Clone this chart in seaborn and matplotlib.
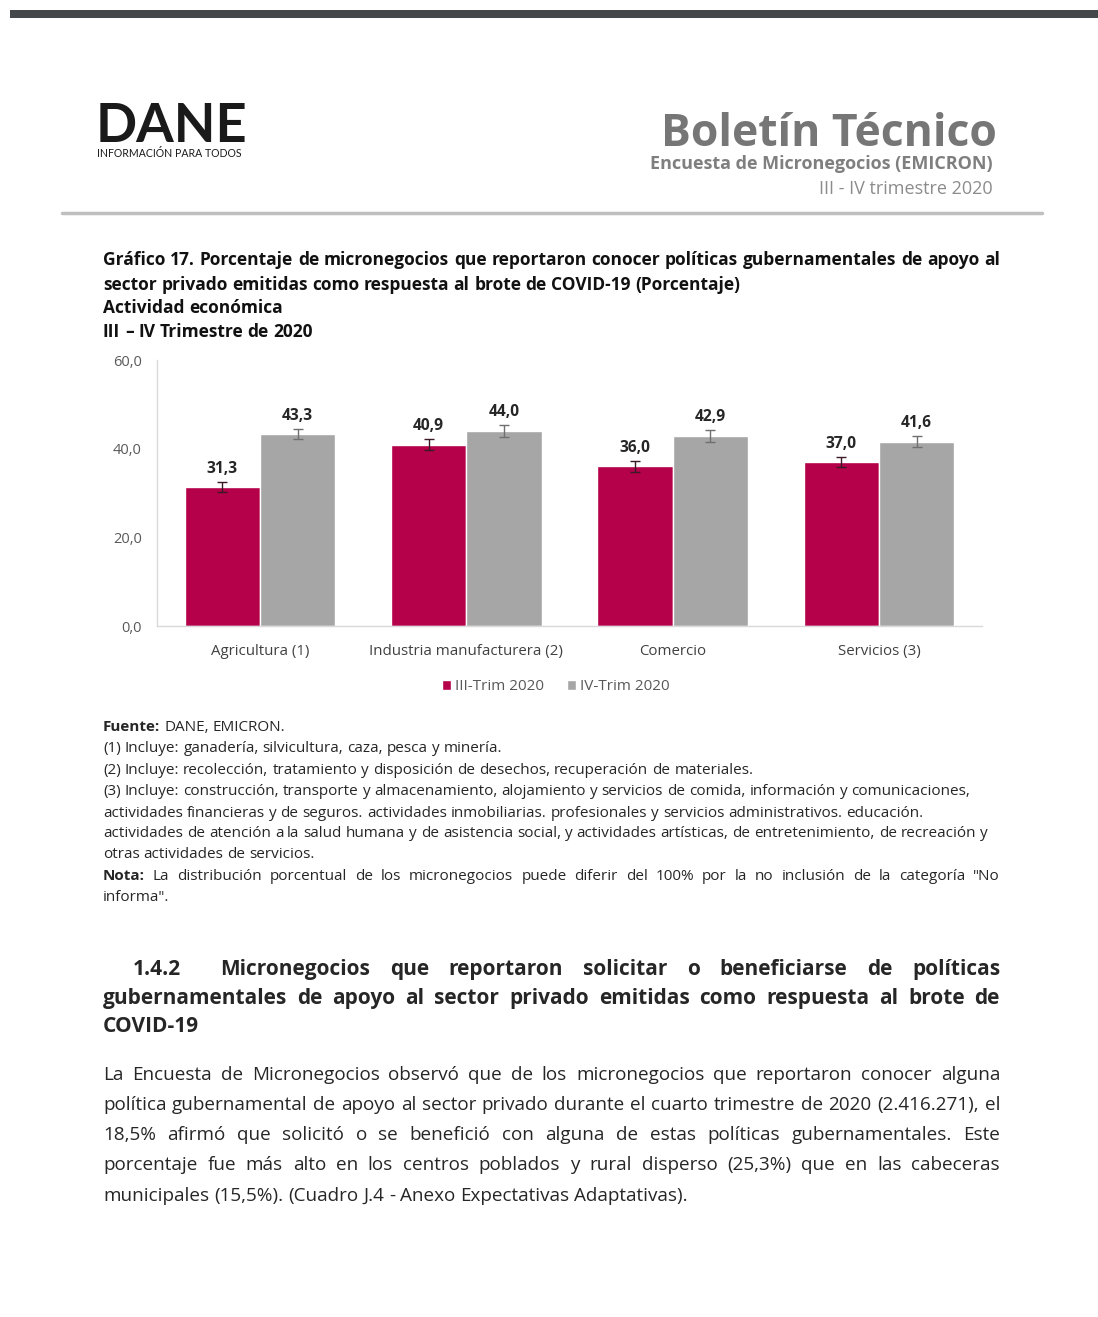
import matplotlib
matplotlib.use("Agg")
import matplotlib.pyplot as plt
from matplotlib.patches import Rectangle, Patch
from matplotlib.lines import Line2D
import seaborn as sns
import pandas as pd

# datos del gráfico
categories = ["Agricultura (1)", "Industria manufacturera (2)", "Comercio", "Servicios (3)"]
periods = ["III-Trim 2020", "IV-Trim 2020"]
trim3 = [31.3, 40.9, 36.0, 37.0]
trim4 = [43.3, 44.0, 42.9, 41.6]
err3 = [1.1, 1.2, 1.3, 1.2]
err4 = [1.2, 1.3, 1.3, 1.3]
yticks = [0, 20, 40, 60]

RED = "#b5004a"
GRAY = "#a6a6a6"
W, H = 1098, 1317

sns.set_theme(style="white")
plt.rcParams["font.family"] = ["Open Sans", "DejaVu Sans"]

fig = plt.figure(figsize=(W / 100, H / 100), dpi=100)
fig.patch.set_facecolor("white")
renderer = fig.canvas.get_renderer()


def fx(x):
    return x / W


def fy(y):
    return 1 - y / H


def text_width(s, size, weight="normal"):
    t = fig.text(0, 0, s, fontsize=size, fontweight=weight)
    w = t.get_window_extent(renderer).width
    t.remove()
    return w


def fit_size(lines, target, weight="normal", ref=10):
    # tamaño de letra para que la línea más larga ocupe el ancho dado
    widest = max(text_width(s, ref, weight) for s in lines)
    return ref * target / widest


def put_line(text, x0, yc, x1=None, size=10, color="#262626", bold_n=0, weight="normal"):
    # palabra por palabra para poder justificar la línea
    words = text.split(" ")
    px = size * 100 / 72
    base = yc + 0.36 * px
    objs = []
    for i, w in enumerate(words):
        wt = "bold" if (i < bold_n or weight == "bold") else "normal"
        objs.append(fig.text(fx(x0), fy(base), w, fontsize=size, color=color,
                             fontweight=wt, va="baseline", ha="left"))
    widths = [t.get_window_extent(renderer).width for t in objs]
    gap = text_width("a a", size) - text_width("aa", size)
    if x1 is not None and len(objs) > 1:
        gap = (x1 - x0 - sum(widths)) / (len(objs) - 1)
    x = x0
    for t, w in zip(objs, widths):
        t.set_x(fx(x))
        x += w + gap


# ---- cabecera ----
fig.add_artist(Rectangle((fx(10), fy(18)), fx(1088), 8 / H, transform=fig.transFigure,
                         color="#45484b", lw=0))
fig.text(fx(96), fy(142), "DANE", family=["Lato", "DejaVu Sans"], fontsize=39,
         fontweight="bold", color="#1a1a1a", va="baseline")
fig.text(fx(97), fy(157), "INFORMACIÓN PARA TODOS", family=["Lato", "DejaVu Sans"],
         fontsize=7.6, color="#1a1a1a", va="baseline")
fig.text(fx(997), fy(146), "Boletín Técnico", fontsize=32, fontweight="bold",
         color="#767676", ha="right", va="baseline")
fig.text(fx(993), fy(169), "Encuesta de Micronegocios (EMICRON)", fontsize=13,
         fontweight="bold", color="#7f7f7f", ha="right", va="baseline")
fig.text(fx(993), fy(194), "III - IV trimestre 2020", fontsize=13,
         color="#8c8c8c", ha="right", va="baseline")
fig.add_artist(Line2D([fx(62), fx(1042)], [fy(213), fy(213)], color="#bfbfbf", lw=2.5))

# ---- título del gráfico ----
title = [
    "Gráfico 17. Porcentaje de micronegocios que reportaron conocer políticas gubernamentales de apoyo al",
    "sector privado emitidas como respuesta al brote de COVID-19 (Porcentaje)",
    "Actividad económica",
    "III – IV Trimestre de 2020",
]
ts = fit_size(title[:1], 897, "bold")
put_line(title[0], 103, 259, 1000, size=ts, color="#111111", weight="bold")
for txt, y in zip(title[1:], [284, 307, 331]):
    put_line(txt, 103, y, size=ts, color="#111111", weight="bold")

# ---- gráfico de barras ----
ax = fig.add_axes([fx(157), fy(626), 825 / W, 266 / H])
df = pd.DataFrame({
    "categoria": categories * 2,
    "periodo": [periods[0]] * len(categories) + [periods[1]] * len(categories),
    "valor": trim3 + trim4,
})
sns.barplot(data=df, x="categoria", y="valor", hue="periodo", hue_order=periods,
            palette=[RED, GRAY], width=0.73, saturation=1, errorbar=None,
            legend=False, ax=ax)

for cont, vals, errs, ecol in zip(ax.containers, [trim3, trim4], [err3, err4],
                                  ["#3a1a24", "#6f6f6f"]):
    for bar, v, e in zip(cont, vals, errs):
        xc = bar.get_x() + bar.get_width() / 2
        ax.errorbar(xc, v, yerr=e, fmt="none", ecolor=ecol, elinewidth=1,
                    capsize=3.5, capthick=1)
        ax.annotate(f"{v:.1f}".replace(".", ","), (xc, v + e), xytext=(0, 3.5),
                    textcoords="offset points", ha="center", va="bottom",
                    fontsize=11.2, fontweight="bold", color="#262626")

ax.set_ylim(0, 60)
ax.set_xlim(-0.5, 3.5)
ax.set_yticks(yticks)
ax.set_yticklabels([f"{t:.1f}".replace(".", ",") for t in yticks], fontsize=10.5, color="#595959")
ax.tick_params(axis="x", labelsize=10.8, colors="#404040", length=0, pad=13)
ax.tick_params(axis="y", length=0, pad=11)
ax.set_xlabel("")
ax.set_ylabel("")
for s in ["top", "right"]:
    ax.spines[s].set_visible(False)
for s in ["left", "bottom"]:
    ax.spines[s].set_color("#d9d9d9")
    ax.spines[s].set_linewidth(1)

handles = [Patch(facecolor=RED), Patch(facecolor=GRAY)]
leg = fig.legend(handles, periods, loc="center", bbox_to_anchor=(fx(556), fy(687)),
                 ncol=2, frameon=False, fontsize=11, handlelength=0.55, handleheight=0.55,
                 handletextpad=0.3, columnspacing=1.5)
for t in leg.get_texts():
    t.set_color("#595959")

# ---- notas ----
notes = [
    ("Fuente: DANE, EMICRON.", 726, None, 1),
    ("(1) Incluye: ganadería, silvicultura, caza, pesca y minería.", 747, None, 0),
    ("(2) Incluye: recolección, tratamiento y disposición de desechos, recuperación de materiales.", 769, None, 0),
    ("(3) Incluye: construcción, transporte y almacenamiento, alojamiento y servicios de comida, información y comunicaciones,", 790, None, 0),
    ("actividades financieras y de seguros. actividades inmobiliarias. profesionales y servicios administrativos. educación.", 812, None, 0),
    ("actividades de atención a la salud humana y de asistencia social, y actividades artísticas, de entretenimiento, de recreación y", 832, None, 0),
    ("otras actividades de servicios.", 853, None, 0),
    ("Nota: La distribución porcentual de los micronegocios puede diferir del 100% por la no inclusión de la categoría \"No", 875, 1000, 1),
    ("informa\".", 896, None, 0),
]
fs = fit_size([notes[3][0]], 864)
for txt, y, x1, nb in notes:
    put_line(txt, 103, y, x1, size=fs, color="#262626", bold_n=nb)

# ---- sección 1.4.2 ----
heading = [
    ("1.4.2  Micronegocios que reportaron solicitar o beneficiarse de políticas", 133, 967, 1000),
    ("gubernamentales de apoyo al sector privado emitidas como respuesta al brote de", 103, 996, 1000),
    ("COVID-19", 103, 1024, None),
]
hs = fit_size([heading[1][0]], 897 * 0.95, "bold")
for txt, x0, y, x1 in heading:
    put_line(txt, x0, y, x1, size=hs, color="#262626", weight="bold")

para = [
    ("La Encuesta de Micronegocios observó que de los micronegocios que reportaron conocer alguna", 1073, 1000),
    ("política gubernamental de apoyo al sector privado durante el cuarto trimestre de 2020 (2.416.271), el", 1103, 1000),
    ("18,5% afirmó que solicitó o se benefició con alguna de estas políticas gubernamentales. Este", 1133, 1000),
    ("porcentaje fue más alto en los centros poblados y rural disperso (25,3%) que en las cabeceras", 1163, 1000),
    ("municipales (15,5%). (Cuadro J.4 - Anexo Expectativas Adaptativas).", 1194, None),
]
ps = fit_size([p[0] for p in para[:4]], 897 * 0.99)
for txt, y, x1 in para:
    put_line(txt, 103, y, x1, size=ps, color="#262626")

fig.savefig("out.png", dpi=100, facecolor="white")
